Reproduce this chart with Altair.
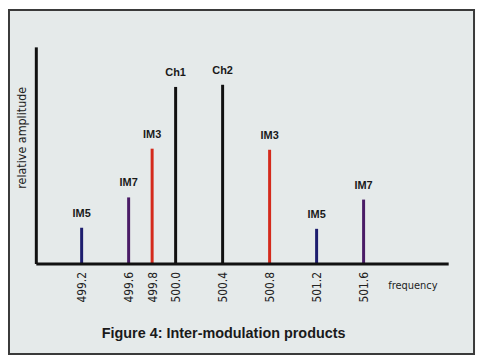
import altair as alt
import pandas as pd

freqs = [499.2, 499.6, 499.8, 500.0, 500.4, 500.8, 501.2, 501.6]
amps = [16.5, 30.5, 53, 81.5, 82.5, 52.5, 16, 29.5]
labels = ["IM5", "IM7", "IM3", "Ch1", "Ch2", "IM3", "IM5", "IM7"]
kinds = ["IM5", "IM7", "IM3", "Ch", "Ch", "IM3", "IM5", "IM7"]
kind_order = ["Ch", "IM3", "IM5", "IM7"]
kind_colors = ["#111111", "#d42a1c", "#1d1d6e", "#4a1c66"]
tick_values = freqs
title_text = "Figure 4: Inter-modulation products"

df = pd.DataFrame({"freq": freqs, "amp": amps, "label": labels, "kind": kinds})

W, H = 415, 218
xscale = alt.Scale(domain=[498.81, 502.32], nice=False, zero=False)
yscale = alt.Scale(domain=[0, 100], nice=False)
SANS = "'DejaVu Sans Condensed', 'Liberation Sans', sans-serif"
BOLD = "'Liberation Sans', 'DejaVu Sans', sans-serif"

base = alt.Chart(df)

frame = alt.Chart(pd.DataFrame({"t": [title_text]})).mark_rect(
    fill="#e5eaea", stroke="#3a3a3a", strokeWidth=2
).encode(x=alt.value(-27), x2=alt.value(441), y=alt.value(-37), y2=alt.value(309))

title = alt.Chart(pd.DataFrame({"t": [title_text]})).mark_text(
    font=BOLD, fontSize=14.5, fontWeight="bold", color="#1a1a1a",
    align="center", baseline="middle"
).encode(x=alt.value(189), y=alt.value(289), text="t:N")

rules = base.mark_rule(strokeWidth=3).encode(
    x=alt.X("freq:Q", scale=xscale,
            axis=alt.Axis(values=tick_values, format=".1f", labelAngle=270, ticks=False,
                          grid=False, domainColor="#111111", domainWidth=3, zindex=1,
                          labelFont=SANS, labelFontSize=12,
                          labelColor="#222222", labelPadding=8,
                          title="frequency", titleFont=SANS,
                          titleFontSize=11, titleFontWeight="normal", titleColor="#222222",
                          titleX=379, titleY=16, titleAnchor="middle")),
    y=alt.Y("amp:Q", scale=yscale,
            axis=alt.Axis(labels=False, ticks=False, grid=False, domainColor="#111111",
                          domainWidth=3, zindex=1, title="relative amplitude",
                          titleFont=SANS, titleFontSize=12.5,
                          titleFontWeight="normal", titleColor="#222222",
                          titleX=-14, titleY=91, titleAngle=270, titleAnchor="middle",
                          titleBaseline="middle")),
    y2=alt.datum(0),
    color=alt.Color("kind:N", scale=alt.Scale(domain=kind_order, range=kind_colors), legend=None),
)

texts = base.mark_text(
    font=BOLD, fontSize=11, fontWeight="bold", color="#1a1a1a",
    baseline="bottom", dy=-9
).encode(x=alt.X("freq:Q", scale=xscale), y=alt.Y("amp:Q", scale=yscale), text="label:N")

chart = alt.layer(frame, rules, texts, title).properties(
    width=W, height=H,
    autosize=alt.AutoSizeParams(type="none"),
    padding={"left": 28, "top": 38, "right": 29, "bottom": 94},
    background="#ffffff",
).configure_view(stroke=None)

chart.save("out.html", embed_options={"renderer": "svg", "actions": False})
